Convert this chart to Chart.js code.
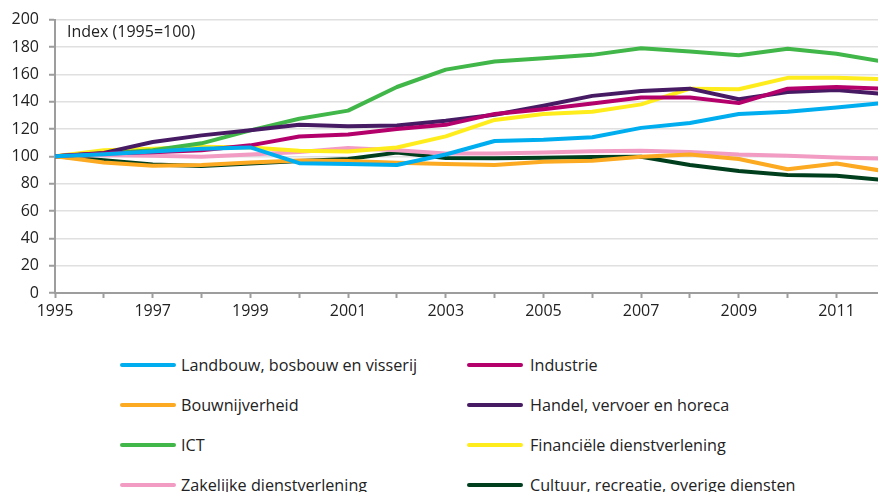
<!DOCTYPE html>
<html>
<head>
<meta charset="utf-8">
<script src="https://cdn.jsdelivr.net/npm/chart.js@4.4.1/dist/chart.umd.min.js"></script>
<style>
  html, body { margin: 0; padding: 0; background: #fff; overflow: hidden; width: 878px; height: 492px; }
  #wrap { position: absolute; left: 0; top: 0; width: 878px; height: 330px; }
  #title { position: absolute; left: 67px; top: 20px; font-family: 'Open Sans', sans-serif; font-size: 16px; color: #222; white-space: nowrap; }
  .lg { position: absolute; height: 24px; font-family: 'Open Sans', sans-serif; font-size: 16.2px; color: #222; white-space: nowrap; line-height: 24px; }
  .sw { position: absolute; height: 4px; border-radius: 2px; }
</style>
</head>
<body>
<div id="wrap"><canvas id="c" width="878" height="330"></canvas></div>
<div id="title">Index (1995=100)</div>
<div id="legend"></div>
<script>
// ---- data ----
const years = [1995,1996,1997,1998,1999,2000,2001,2002,2003,2004,2005,2006,2007,2008,2009,2010,2011,2012];
const seriesNames = [
  'Landbouw, bosbouw en visserij',
  'Industrie',
  'Bouwnijverheid',
  'Handel, vervoer en horeca',
  'ICT',
  'Financiële dienstverlening',
  'Zakelijke dienstverlening',
  'Cultuur, recreatie, overige diensten'
];
const landbouw  = [100,101.5,103.5,105.5,106.5,95,94.4,93.6,101.3,111.2,112.1,114,120.8,124.4,131,132.6,135.7,139.2];
const industrie = [100,102,103,104.5,108,114.5,116,120,123,131,134.5,138.6,143,143,138.9,149.5,150.7,149.3];
const bouw      = [100,95.5,93,93.6,95.5,97,96.5,95.3,94.4,93.6,96,96.8,99.6,101.3,98,90.5,94.8,89];
const handel    = [100,102.5,110.5,115.3,119,123,122,122.5,126,130.4,137,144.2,147.8,149.5,141.7,147,148.5,145.5];
const ict       = [100,102,104.5,109.5,119,127.5,133.4,150.7,163.4,169.4,171.8,174.2,179,176.7,174,178.6,175,169];
const financ    = [100,104.5,105.5,107,106.5,104,103.5,106.4,114.6,126.6,131,132.6,138,149.5,149,157.4,157.4,156.5];
const zakelijk  = [100,101,100.4,99.6,101.3,103.2,106,104.5,102,102,102.7,103.7,104,103.2,101.3,100.4,99.2,98.3];
const cultuur   = [100,97.2,94,92.9,94.8,96.5,98,102.7,98.8,98.6,98.9,99.4,99.6,93.6,89.3,86.4,85.7,82.5];
const yTicks = [0,20,40,60,80,100,120,140,160,180,200];
const xLabelYears = [1995,1997,1999,2001,2003,2005,2007,2009,2011];

const seriesValues = [landbouw, industrie, bouw, handel, ict, financ, zakelijk, cultuur];
const colors = ['#00aeef','#b3006b','#fbaa21','#461b63','#41b649','#ffec1c','#f29cc4','#003f1e'];

const datasets = seriesValues.map((vals, i) => ({
  label: seriesNames[i],
  data: years.map((y, j) => ({ x: y, y: vals[j] })),
  borderColor: colors[i],
  backgroundColor: colors[i],
  borderWidth: 4,
  pointRadius: 0,
  tension: 0,
  fill: false,
  borderCapStyle: 'round',
  borderJoinStyle: 'round'
}));

const font = { family: "'Open Sans', sans-serif", size: 16 };

new Chart(document.getElementById('c'), {
  type: 'line',
  data: { datasets },
  options: {
    responsive: false,
    animation: false,
    events: [],
    layout: { padding: { top: 16, right: 0, bottom: 0, left: 0 } },
    plugins: { legend: { display: false }, tooltip: { enabled: false } },
    scales: {
      x: {
        type: 'linear',
        min: 1995,
        max: 2011.85,
        offset: false,
        afterFit: s => { s.height = 37; },
        border: { display: true, color: '#9d9d9d', width: 2 },
        grid: { drawOnChartArea: false, drawTicks: true, tickLength: 5, tickColor: '#9d9d9d', tickWidth: 2 },
        ticks: {
          stepSize: 1,
          includeBounds: false,
          autoSkip: false,
          maxRotation: 0,
          padding: 4,
          color: '#222',
          font: font,
          callback: v => xLabelYears.includes(v) ? String(v) : ''
        }
      },
      y: {
        min: 0,
        max: 200,
        afterFit: s => { s.width = 55; },
        afterBuildTicks: s => { s.ticks = yTicks.map(v => ({ value: v })); },
        border: { display: true, color: '#9d9d9d', width: 2 },
        grid: { color: '#e0e0e0', lineWidth: 1.5, drawTicks: true, tickLength: 6, tickColor: '#9d9d9d', tickWidth: 2 },
        ticks: { color: '#222', font: font, padding: 10, callback: v => String(v) }
      }
    }
  }
});

// ---- legend (HTML) ----
const lg = document.getElementById('legend');
seriesNames.forEach((name, i) => {
  const col = i % 2, row = Math.floor(i / 2);
  const cy = 365 + row * 40;
  const sw = document.createElement('div');
  sw.className = 'sw';
  sw.style.left = (col === 0 ? 120 : 467) + 'px';
  sw.style.width = '56px';
  sw.style.top = (cy - 2) + 'px';
  sw.style.background = colors[i];
  document.body.appendChild(sw);
  const t = document.createElement('div');
  t.className = 'lg';
  t.style.left = (col === 0 ? 181 : 530) + 'px';
  t.style.top = (cy - 12) + 'px';
  t.textContent = name;
  lg.appendChild(t);
});
</script>
</body>
</html>
